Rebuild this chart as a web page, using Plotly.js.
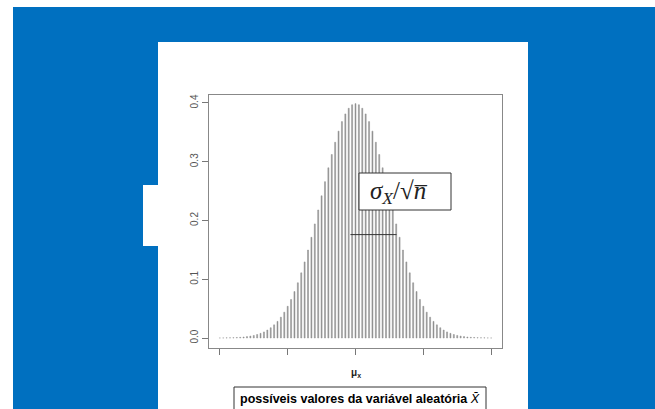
<!DOCTYPE html>
<html>
<head>
<meta charset="utf-8">
<script src="https://cdn.plot.ly/plotly-3.0.1.min.js"></script>
<style>html,body{margin:0;padding:0;background:#fff;}#chart{width:655px;height:409px;}</style>
</head>
<body>
<div id="chart"></div>
<script>
// Possible values of the sample mean (in standard-error units around mu)
const xValues = [
 -4.0,-3.9,-3.8,-3.7,-3.6,-3.5,-3.4,-3.3,-3.2,-3.1,
 -3.0,-2.9,-2.8,-2.7,-2.6,-2.5,-2.4,-2.3,-2.2,-2.1,
 -2.0,-1.9,-1.8,-1.7,-1.6,-1.5,-1.4,-1.3,-1.2,-1.1,
 -1.0,-0.9,-0.8,-0.7,-0.6,-0.5,-0.4,-0.3,-0.2,-0.1,
  0.0,
  0.1, 0.2, 0.3, 0.4, 0.5, 0.6, 0.7, 0.8, 0.9, 1.0,
  1.1, 1.2, 1.3, 1.4, 1.5, 1.6, 1.7, 1.8, 1.9, 2.0,
  2.1, 2.2, 2.3, 2.4, 2.5, 2.6, 2.7, 2.8, 2.9, 3.0,
  3.1, 3.2, 3.3, 3.4, 3.5, 3.6, 3.7, 3.8, 3.9, 4.0
];
// Read heights of the vertical lines
const densityValues = [
 0.0001,0.0002,0.0003,0.0004,0.0006,0.0009,0.0012,0.0017,0.0024,0.0033,
 0.0044,0.0060,0.0079,0.0104,0.0136,0.0175,0.0224,0.0283,0.0355,0.0440,
 0.0540,0.0656,0.0790,0.0940,0.1109,0.1295,0.1497,0.1714,0.1942,0.2179,
 0.2420,0.2661,0.2897,0.3123,0.3332,0.3521,0.3683,0.3814,0.3910,0.3970,
 0.3989,
 0.3970,0.3910,0.3814,0.3683,0.3521,0.3332,0.3123,0.2897,0.2661,0.2420,
 0.2179,0.1942,0.1714,0.1497,0.1295,0.1109,0.0940,0.0790,0.0656,0.0540,
 0.0440,0.0355,0.0283,0.0224,0.0175,0.0136,0.0104,0.0079,0.0060,0.0044,
 0.0033,0.0024,0.0017,0.0012,0.0009,0.0006,0.0004,0.0003,0.0002,0.0001
];
const xTickVals = [-4, -2, 0, 2, 4];
const yTickVals = [0, 0.1, 0.2, 0.3, 0.4];
const yTickText = ["0.0", "0.1", "0.2", "0.3", "0.4"];
const muLabel = "<b>μ<sub>x</sub></b>";
const sigmaLabel = "<i>σ<sub>X</sub></i>/√<i>n̅</i>";
const xLabelBox = "<b>possíveis valores da variável aleatória</b> <i>X̄</i>";

// plot-area pixel geometry
const L = 209, R = 502, T = 95, B = 348, W = 655, H = 409;
const px = v => (v - L) / (R - L);
const py = v => (B - v) / (B - T);

const trace = {
  type: "bar",
  x: xValues,
  y: densityValues,
  width: 0.03,
  marker: {color: "#909090", line: {color: "#909090", width: 0.5}},
  hoverinfo: "skip"
};

const layout = {
  width: W, height: H,
  margin: {l: L, r: W - R, t: T, b: H - B, pad: 0},
  paper_bgcolor: "#ffffff",
  plot_bgcolor: "rgba(0,0,0,0)",
  showlegend: false,
  bargap: 0,
  xaxis: {
    range: [-4.32, 4.32],
    tickvals: xTickVals,
    showticklabels: false,
    ticks: "outside", ticklen: 6, tickwidth: 1, tickcolor: "#777",
    showline: true, linecolor: "#888", linewidth: 1.2, mirror: true,
    showgrid: false, zeroline: false, fixedrange: true
  },
  yaxis: {
    range: [-0.017, 0.4136],
    tickvals: yTickVals,
    ticktext: yTickText,
    tickangle: -90,
    ticks: "outside", ticklen: 6, tickwidth: 1, tickcolor: "#777",
    tickfont: {family: "Liberation Sans, Arial, sans-serif", size: 10, color: "#555"},
    showline: true, linecolor: "#888", linewidth: 1.2, mirror: true,
    showgrid: false, zeroline: false, fixedrange: true
  },
  shapes: [
    {type: "rect", xref: "paper", yref: "paper", x0: px(13), x1: px(660), y0: py(7), y1: py(415),
     fillcolor: "#0070C0", line: {width: 0}, layer: "below"},
    {type: "rect", xref: "paper", yref: "paper", x0: px(158), x1: px(528), y0: py(42), y1: py(415),
     fillcolor: "#ffffff", line: {width: 0}, layer: "below"},
    {type: "rect", xref: "paper", yref: "paper", x0: px(143), x1: px(158.5), y0: py(185), y1: py(246),
     fillcolor: "#ffffff", line: {width: 0}, layer: "below"},
    {type: "rect", xref: "paper", yref: "paper", x0: px(359), x1: px(451), y0: py(173), y1: py(210),
     fillcolor: "#ffffff", line: {color: "#333", width: 1}, layer: "above"},
    {type: "rect", xref: "paper", yref: "paper", x0: px(234), x1: px(486), y0: py(387), y1: py(430),
     fillcolor: "#ffffff", line: {color: "#333", width: 1}, layer: "above"},
    {type: "line", xref: "x", yref: "y", x0: -0.15, x1: 1.21, y0: 0.176, y1: 0.176,
     line: {color: "#333", width: 1}, layer: "above"}
  ],
  annotations: [
    {xref: "paper", yref: "paper", x: px(368), y: py(192), xanchor: "left", yanchor: "middle",
     text: sigmaLabel, showarrow: false,
     font: {family: "Liberation Serif, DejaVu Serif, serif", size: 25, color: "#222"}},
    {xref: "x", yref: "paper", x: 0, y: py(373), xanchor: "center", yanchor: "middle",
     text: muLabel, showarrow: false,
     font: {family: "Liberation Sans, Arial, sans-serif", size: 10, color: "#222"}},
    {xref: "paper", yref: "paper", x: px(360), y: py(399), xanchor: "center", yanchor: "middle",
     text: xLabelBox, showarrow: false,
     font: {family: "Liberation Sans Narrow, Liberation Sans, Arial, sans-serif", size: 12.5, color: "#000"}}
  ]
};

Plotly.newPlot("chart", [trace], layout, {displayModeBar: false, staticPlot: true});
</script>
</body>
</html>
